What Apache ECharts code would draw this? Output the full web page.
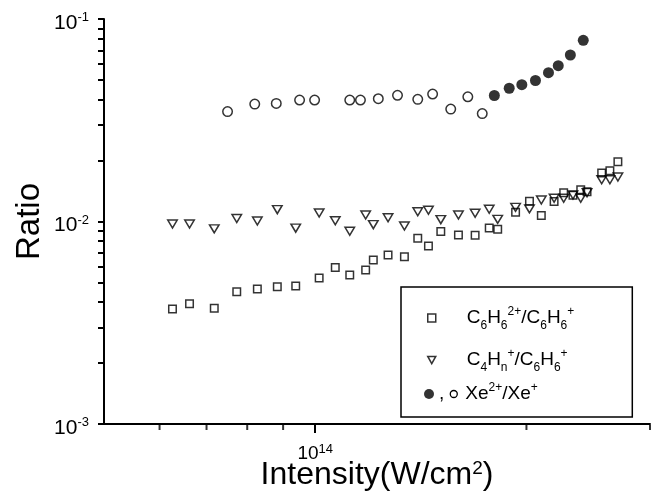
<!DOCTYPE html>
<html>
<head>
<meta charset="utf-8">
<script src="https://cdn.jsdelivr.net/npm/echarts@6/dist/echarts.min.js"></script>
<style>
    html, body { margin: 0; padding: 0; background: #fff; }
    #chart { width: 654px; height: 504px; }
</style>
</head>
<body>
<div id="chart"></div>
<script>
    // intensity (W/cm^2), shared by the two benzene ratios
    const benzeneX = [6.26e13, 6.62e13, 7.18e13, 7.73e13, 8.27e13, 8.83e13, 9.38e13, 1.013e14,
        1.068e14, 1.12e14, 1.18e14, 1.21e14, 1.27e14, 1.34e14, 1.40e14, 1.45e14,
        1.51e14, 1.60e14, 1.69e14, 1.77e14, 1.82e14, 1.93e14, 2.02e14, 2.10e14,
        2.19e14, 2.26e14, 2.33e14, 2.39e14, 2.44e14, 2.56e14, 2.63e14, 2.70e14];
    const c6h6Ratio = [3.70e-3, 3.93e-3, 3.73e-3, 4.50e-3, 4.64e-3, 4.76e-3, 4.80e-3, 5.26e-3,
        5.92e-3, 5.44e-3, 5.76e-3, 6.45e-3, 6.83e-3, 6.70e-3, 8.27e-3, 7.57e-3,
        8.93e-3, 8.58e-3, 8.56e-3, 9.29e-3, 9.15e-3, 1.110e-2, 1.259e-2, 1.070e-2,
        1.255e-2, 1.388e-2, 1.349e-2, 1.436e-2, 1.402e-2, 1.736e-2, 1.782e-2, 1.972e-2];
    const c4hnRatio = [9.72e-3, 9.72e-3, 9.20e-3, 1.035e-2, 1.006e-2, 1.145e-2, 9.27e-3, 1.102e-2,
        1.009e-2, 8.95e-3, 1.077e-2, 9.65e-3, 1.044e-2, 9.50e-3, 1.117e-2, 1.136e-2,
        1.022e-2, 1.077e-2, 1.098e-2, 1.149e-2, 1.025e-2, 1.175e-2, 1.155e-2, 1.277e-2,
        1.303e-2, 1.302e-2, 1.352e-2, 1.303e-2, 1.388e-2, 1.608e-2, 1.608e-2, 1.659e-2];
    const xeOpenX = [7.50e13, 8.20e13, 8.80e13, 9.50e13, 9.98e13, 1.12e14, 1.16e14,
        1.23e14, 1.31e14, 1.40e14, 1.47e14, 1.56e14, 1.65e14, 1.73e14];
    const xeOpenRatio = [3.49e-2, 3.80e-2, 3.83e-2, 3.98e-2, 3.98e-2, 3.98e-2, 3.98e-2,
        4.04e-2, 4.20e-2, 4.01e-2, 4.26e-2, 3.59e-2, 4.13e-2, 3.41e-2];
    const xeFilledX = [1.80e14, 1.89e14, 1.97e14, 2.06e14, 2.15e14, 2.22e14, 2.31e14, 2.41e14];
    const xeFilledRatio = [4.19e-2, 4.55e-2, 4.74e-2, 4.97e-2, 5.43e-2, 5.88e-2, 6.64e-2, 7.85e-2];

    const xRange = [5e13, 3e14];
    const yRange = [1e-3, 1e-1];
    const xMajorTicks = [1e14];
    const yMajorTicks = [1e-3, 1e-2, 1e-1];
    const xMinorTicks = [6e13, 7e13, 8e13, 9e13, 2e14, 3e14];
    const yMinorTicks = [2e-3, 3e-3, 4e-3, 5e-3, 6e-3, 7e-3, 8e-3, 9e-3,
        2e-2, 3e-2, 4e-2, 5e-2, 6e-2, 7e-2, 8e-2, 9e-2];

    const FONT = '"Liberation Sans", Arial, Helvetica, sans-serif';
    const zip = (xs, ys) => xs.map((x, i) => [x, ys[i]]);
    const powLabel = v => '{b|10}{s|' + Math.round(Math.log10(v)) + '}';

    const legendText = {
        'C6H6': '{b0|C}{sub|6}{b|H}{sub|6}{sup|2+}{b|/C}{sub|6}{b|H}{sub|6}{sup|+}',
        'C4Hn': '{b0|C}{sub|4}{b|H}{sub|n}{sup|+}{b|/C}{sub|6}{b|H}{sub|6}{sup|+}',
        'Xe': '{b|,}{sp1| }{o| }{sp2| }{b|Xe}{sup|2+}{b|/Xe}{sup|+}'
    };
    const legendRich = {
        b: {fontSize: 19, lineHeight: 24, fontFamily: FONT, color: '#000'},
        b0: {fontSize: 19, lineHeight: 24, fontFamily: FONT, color: '#000', padding: [0, 0, 0, 26]},
        sub: {fontSize: 12, lineHeight: 12, verticalAlign: 'bottom', fontFamily: FONT, color: '#000', padding: [0, 0, -2, 0]},
        sup: {fontSize: 12, lineHeight: 12, verticalAlign: 'top', fontFamily: FONT, color: '#000'},
        sp1: {width: 6, fontSize: 6},
        sp2: {width: 8, fontSize: 6},
        o: {width: 7, height: 7, borderColor: '#000', borderWidth: 1.3, borderRadius: 5, fontSize: 6, lineHeight: 8}
    };

    const hollow = {color: 'rgba(0,0,0,0)', borderColor: '#000', borderWidth: 1.5};
    const tickStyle = {color: '#000', width: 2};

    // short 2..9 ticks under the x axis, placed through the log scales
    const xTickMarks = {
        type: 'scatter',
        silent: true,
        clip: false,
        z: 5,
        symbol: 'rect',
        symbolSize: [2, 5],
        symbolOffset: [0, 3.5],
        itemStyle: {color: '#000'},
        emphasis: {disabled: true},
        data: xMinorTicks.map(v => [v, yRange[0]])
    };

    const myChart = echarts.init(document.getElementById('chart'));
    const option = {
        animation: false,
        backgroundColor: '#fff',
        grid: {left: 104, right: 4, top: 19, bottom: 80, outerBoundsMode: 'none'},
        legend: [
            {
                orient: 'vertical',
                left: 401,
                top: 287,
                padding: [19, 58, 43, 26],
                borderColor: '#000',
                borderWidth: 1.5,
                itemWidth: 8,
                itemHeight: 8,
                itemGap: 16,
                data: [
                    {name: 'C6H6', icon: 'rect', itemStyle: hollow},
                    {name: 'C4Hn', icon: 'path://M0,0L10,0L5,9Z', itemStyle: hollow}
                ],
                formatter: name => legendText[name],
                textStyle: {rich: legendRich}
            },
            {
                orient: 'vertical',
                left: 424,
                top: 382,
                padding: 0,
                itemWidth: 10,
                itemHeight: 10,
                data: [{name: 'Xe', icon: 'circle', itemStyle: {color: '#000', borderWidth: 0}}],
                formatter: name => legendText[name],
                textStyle: {rich: legendRich}
            }
        ],
        xAxis: {
            type: 'log',
            logBase: 10,
            min: xRange[0],
            max: xRange[1],
            position: 'bottom',
            axisLine: {lineStyle: {color: '#000', width: 2}},
            axisTick: {customValues: xMajorTicks, length: 9, lineStyle: tickStyle},
            axisLabel: {
                customValues: xMajorTicks,
                formatter: powLabel,
                margin: 19,
                rich: {
                    b: {fontSize: 19, lineHeight: 22, fontFamily: FONT, color: '#000'},
                    s: {fontSize: 13, lineHeight: 13, verticalAlign: 'top', fontFamily: FONT, color: '#000'}
                }
            },
            splitLine: {show: false},
            name: 'Intensity(W/cm{s|2})',
            nameLocation: 'middle',
            nameGap: 35,
            nameMoveOverlap: false,
            nameTextStyle: {
                fontSize: 32, fontFamily: FONT, color: '#000', lineHeight: 32,
                rich: {s: {fontSize: 19, lineHeight: 19, verticalAlign: 'top', fontFamily: FONT, color: '#000'}}
            }
        },
        yAxis: {
            type: 'log',
            logBase: 10,
            min: yRange[0],
            max: yRange[1],
            position: 'left',
            axisLine: {show: true, lineStyle: {color: '#000', width: 2}},
            axisTick: {
                show: true,
                customValues: yMajorTicks.concat(yMinorTicks),
                length: 6,
                lineStyle: tickStyle
            },
            axisLabel: {
                customValues: yMajorTicks,
                formatter: powLabel,
                margin: 15,
                padding: [8, 0, 0, 0],
                rich: {
                    b: {fontSize: 21, lineHeight: 24, fontFamily: FONT, color: '#000'},
                    s: {fontSize: 13, lineHeight: 13, verticalAlign: 'top', fontFamily: FONT, color: '#000'}
                }
            },
            splitLine: {show: false},
            name: 'Ratio',
            nameLocation: 'middle',
            nameGap: 58,
            nameMoveOverlap: false,
            nameTextStyle: {fontSize: 33, fontFamily: FONT, color: '#000'}
        },
        series: [
            xTickMarks,
            {
                name: 'C6H6',
                type: 'scatter',
                symbol: 'rect',
                symbolSize: 7.5,
                itemStyle: hollow,
                data: zip(benzeneX, c6h6Ratio)
            },
            {
                name: 'C4Hn',
                type: 'scatter',
                symbol: 'triangle',
                symbolRotate: 180,
                symbolSize: [9.5, 8],
                itemStyle: hollow,
                data: zip(benzeneX, c4hnRatio)
            },
            {
                name: 'Xe open',
                type: 'scatter',
                symbol: 'circle',
                symbolSize: 9.5,
                itemStyle: hollow,
                data: zip(xeOpenX, xeOpenRatio)
            },
            {
                name: 'Xe',
                type: 'scatter',
                symbol: 'circle',
                symbolSize: 11,
                itemStyle: {color: '#000'},
                data: zip(xeFilledX, xeFilledRatio)
            }
        ]
    };
    myChart.setOption(option);
</script>
</body>
</html>
